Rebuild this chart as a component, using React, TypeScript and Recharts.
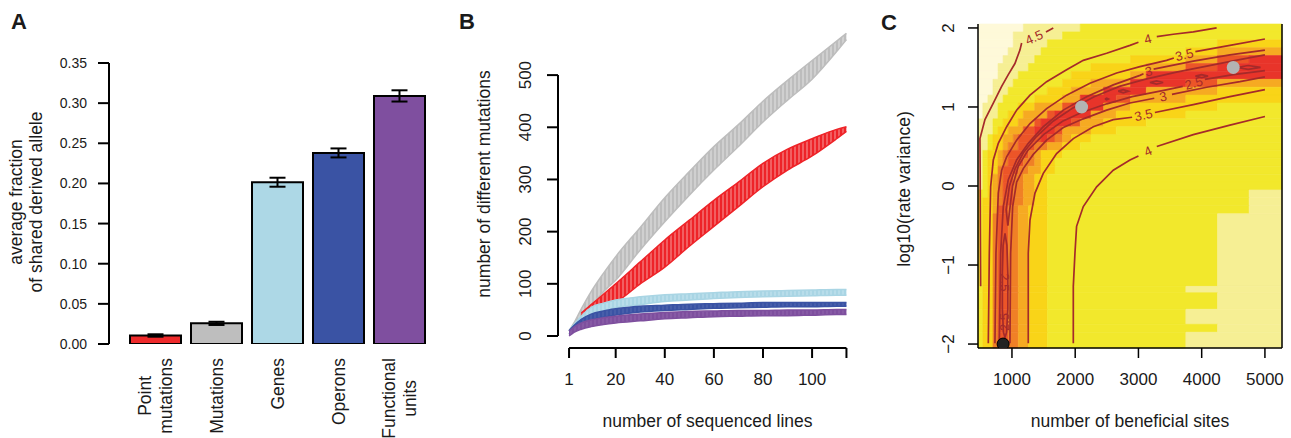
import React from 'react';
import {
  ComposedChart, Bar, ErrorBar, Cell, XAxis, YAxis, Area, Line, Scatter,
  ReferenceArea, ReferenceLine,
} from 'recharts';

const FONT = '"Liberation Sans", Arial, Helvetica, sans-serif';
const INK = '#1a1a1a';

// ---------- panel A ----------
const A_CATEGORIES = ['Point\nmutations', 'Mutations', 'Genes', 'Operons', 'Functional\nunits'];
const A_VALUES = [0.0106, 0.0257, 0.2015, 0.238, 0.309];
const A_ERRORS = [0.0015, 0.002, 0.0056, 0.0056, 0.007];
const A_COLORS = ['#EE2A2B', '#BEBEBE', '#ADD8E6', '#3A53A4', '#7F4F9F'];
const A_TICKS = [0, 0.05, 0.1, 0.15, 0.2, 0.25, 0.3, 0.35];

// ---------- panel B ----------
const B_LINES = [1, 3, 6, 10, 15, 20, 30, 40, 50, 60, 70, 80, 90, 100, 110, 114];
const B_GREY = [[3, 10], [12, 25], [30, 52], [55, 85], [85, 120], [107, 152], [165, 208], [219, 265], [270, 315], [318, 363], [363, 405], [410, 450], [452, 490], [492, 528], [545, 565], [568, 580]];
const B_RED = [null, null, [36, 44], [45, 60], [57, 80], [65, 100], [100, 142], [132, 184], [172, 222], [210, 260], [248, 295], [286, 331], [318, 358], [345, 378], [378, 396], [392, 401]];
const B_LIGHTBLUE = [[4, 10], [12, 22], [25, 38], [38, 55], [48, 63], [54, 69], [60, 75], [66, 79], [69, 81], [72, 83], [74, 85], [75, 86], [76, 87], [77, 88], [78, 89], [78, 89]];
const B_BLUE = [[3, 10], [10, 20], [20, 32], [30, 42], [36, 48], [40, 52], [46, 57], [49, 59], [51, 61], [53, 62], [54, 63], [55, 64], [56, 64], [56, 64], [57, 64], [57, 64]];
const B_PURPLE = [[0, 9], [7, 17], [13, 25], [18, 31], [22, 35], [25, 38], [29, 42], [33, 45], [35, 47], [37, 48], [38, 49], [39, 49], [39, 50], [40, 50], [41, 51], [41, 51]];
const B_XTICKS = [1, 20, 40, 60, 80, 100, 114];
const B_YTICKS = [0, 100, 200, 300, 400, 500];

// ---------- panel C ----------
const C_COL_EDGES = [463, 540, 620, 700, 780, 860, 940, 1020, 1100, 1180, 1260, 1360, 1460, 1560, 1680, 1800, 1940, 2080, 2250, 2450, 2650, 2875, 3125, 3750, 4250, 4750, 5270];
const C_ROW_EDGES = [2.05, 1.95, 1.85, 1.75, 1.65, 1.55, 1.45, 1.35, 1.25, 1.15, 1.05, 0.95, 0.85, 0.75, 0.65, 0.55, 0.45, 0.35, 0.25, 0.15, 0.05, -0.05, -0.15, -0.25, -0.35, -1.27, -1.35, -1.56, -1.75, -1.85, -2.05];
// colour level of each heat-map cell, one string per row (top to bottom)
const C_LEVELS = [
  '00000000011111111222222222',
  '00000001111111122222222222',
  '00000001111112222222222233',
  '00000011111122222222222344',
  '00000111111222222222233467',
  '00001111112222222233334677',
  '00001111222222223333347777',
  '00011112222222233344477644',
  '00011122222223334447774433',
  '00111222222333344777644333',
  '01112222333444467774433322',
  '01112233344446777744333222',
  '11122333444677776443332222',
  '11123344466777644433222222',
  '11233445666676543322222222',
  '11233455666554433222222222',
  '12334566665433322222222222',
  '12334566655433222222222222',
  '12335666554433222222222222',
  '12345665544332222222222222',
  '12345665544332222222222222',
  '22345665544332222222222221',
  '23345665544332222222222221',
  '23346655443332222222222221',
  '23356655443332222222222211',
  '23356655443332222222222111',
  '23356655443332222222222211',
  '23356655443332222222222111',
  '23356655443332222222222211',
  '23356655443332222222222111',
];
const C_PALETTE = ['#FEF9D9', '#F6EF94', '#F2E82C', '#F9D418', '#F6AA22', '#F08026', '#EC5528', '#E8342A'];
const C_XTICKS = [1000, 2000, 3000, 4000, 5000];
const C_YTICKS = [-2, -1, 0, 1, 2];

const C_45_A = [[505, -1.27], [500, -0.5], [497, 0.2], [494, 0.6], [573, 0.84], [705, 1.05], [837, 1.26], [942, 1.41], [1047, 1.55], [1126, 1.72], [1153, 1.81]];
const C_45_B = [[1538, 1.95], [1653, 2.0]];
const C_4U_A = [[626, -1.99], [642, -0.85], [663, -0.01], [705, 0.33], [784, 0.54], [916, 0.75], [1074, 0.96], [1285, 1.15], [1548, 1.32], [1864, 1.47], [2128, 1.59], [2497, 1.68], [2866, 1.78], [3000, 1.82]];
const C_4U_B = [[3290, 1.89], [3551, 1.92], [3867, 1.95], [4236, 2.0]];
const C_35U_A = [[731, -1.99], [747, -0.85], [784, -0.09], [837, 0.2], [916, 0.37], [1074, 0.58], [1285, 0.79], [1548, 0.98], [1864, 1.15], [2233, 1.3], [2655, 1.43], [3024, 1.51], [3445, 1.59], [3560, 1.62]];
const C_35U_B = [[3900, 1.7], [4447, 1.78], [5000, 1.86]];
const C_3U_A = [[800, -1.99], [821, -0.85], [863, -0.26], [942, 0.08], [1074, 0.33], [1258, 0.54], [1495, 0.75], [1812, 0.96], [2180, 1.13], [2602, 1.28], [3024, 1.4], [3080, 1.42]];
const C_3U_B = [[3240, 1.48], [3867, 1.58], [4447, 1.66], [5000, 1.72]];
const C_25U = [[935, -0.5], [908, -0.3], [960, 0.0], [1050, 0.22], [1180, 0.42], [1380, 0.62], [1650, 0.82], [1950, 0.98], [2300, 1.13], [2700, 1.26], [3100, 1.35], [3600, 1.44], [4100, 1.52], [4600, 1.6], [5000, 1.66]];
const C_25L_A = [[935, -0.5], [965, -0.3], [1010, 0.0], [1100, 0.25], [1250, 0.45], [1500, 0.65], [1800, 0.82], [2100, 0.93], [2500, 1.04], [2900, 1.13], [3400, 1.21], [3700, 1.26]];
const C_25L_B = [[4050, 1.35], [4500, 1.41], [5000, 1.46]];
const C_3L_A = [[968, -1.99], [979, -0.85], [1011, -0.26], [1074, 0.05], [1179, 0.22], [1337, 0.4], [1548, 0.58], [1812, 0.74], [2128, 0.85], [2497, 0.96], [2866, 1.05], [3250, 1.11]];
const C_3L_B = [[3530, 1.16], [4078, 1.25], [4605, 1.32], [5000, 1.38]];
const C_35L_A = [[1258, -1.99], [1258, -0.85], [1285, -0.43], [1364, -0.09], [1495, 0.16], [1706, 0.41], [1970, 0.6], [2286, 0.75], [2602, 0.84], [2900, 0.87]];
const C_35L_B = [[3260, 0.93], [3867, 1.03], [4447, 1.13], [5000, 1.22]];
const C_4L_A = [[1970, -1.99], [1970, -1.27], [1996, -0.85], [2022, -0.51], [2128, -0.26], [2339, -0.01], [2602, 0.2], [2866, 0.33], [3000, 0.38]];
const C_4L_B = [[3290, 0.5], [3867, 0.65], [4447, 0.77], [5000, 0.88]];
const C_LOOP_V = [[890, -0.6], [920, -0.75], [935, -1.1], [935, -1.55], [915, -1.85], [890, -1.92], [865, -1.85], [848, -1.55], [848, -1.1], [860, -0.75], [890, -0.6]];
const C_LOOP_1 = [[2680, 1.2], [2760, 1.22], [2840, 1.2], [2760, 1.18], [2680, 1.2]];
const C_LOOP_2 = [[3180, 1.31], [3287, 1.33], [3390, 1.31], [3287, 1.29], [3180, 1.31]];
const C_LOOP_3 = [[3900, 1.39], [3999, 1.41], [4100, 1.39], [3999, 1.37], [3900, 1.39]];
const C_LOOP_4 = [[4560, 1.5], [4736, 1.525], [4930, 1.5], [4736, 1.475], [4560, 1.5]];
const C_LOOP_5 = [[2470, 1.1], [2497, 1.11], [2525, 1.1], [2497, 1.09], [2470, 1.1]];

const C_LABELS = [
  { x: 1350, y: 1.88, t: '4.5', a: -24 },
  { x: 3150, y: 1.86, t: '4', a: -15 },
  { x: 3725, y: 1.66, t: '3.5', a: -14 },
  { x: 3160, y: 1.45, t: '3', a: -12 },
  { x: 3875, y: 1.3, t: '2.5', a: -16 },
  { x: 3390, y: 1.13, t: '3', a: -12 },
  { x: 3080, y: 0.9, t: '3.5', a: -12 },
  { x: 3150, y: 0.44, t: '4', a: -24 },
  { x: 885, y: -1.22, t: '2.5', a: 90 },
  { x: 885, y: -1.72, t: '2.5', a: -90 },
];
const C_GREY_POINTS = [[2101, 1.0], [4499, 1.5]];
const C_BLACK_POINTS = [[860, -2.0]];

const CONTOUR = '#A52A2A';
const C_SEGMENTS = [C_45_A, C_45_B, C_4U_A, C_4U_B, C_35U_A, C_35U_B, C_3U_A, C_3U_B, C_25U, C_25L_A, C_25L_B,
  C_3L_A, C_3L_B, C_35L_A, C_35L_B, C_4L_A, C_4L_B, C_LOOP_V, C_LOOP_1, C_LOOP_2, C_LOOP_3, C_LOOP_4, C_LOOP_5];

// ---------- helpers ----------
let measureCtx: CanvasRenderingContext2D | null = null;
function textWidth(s: string, font: string) {
  if (!measureCtx) measureCtx = document.createElement('canvas').getContext('2d');
  if (!measureCtx) return s.length * 9;
  measureCtx.font = font;
  return measureCtx.measureText(s).width;
}

const CategoryTick = (props: any) => {
  const { x, payload } = props;
  const lines = String(payload.value).split('\n');
  const longest = Math.max(...lines.map((l) => textWidth(l, `17.5px ${FONT}`)));
  const cy = 358 + longest / 2;
  return (
    <g>
      {lines.map((l, i) => (
        <text key={i} transform={`translate(${x + (i - (lines.length - 1) / 2) * 21}, ${cy}) rotate(-90)`}
          textAnchor="middle" dominantBaseline="central" fontSize={17.5} fontFamily={FONT} fill={INK}>{l}</text>
      ))}
    </g>
  );
};

const RotatedTick = (props: any) => {
  const { x, y, payload, shift } = props;
  const v = Number(payload.value);
  const label = v < 0 ? `\u2212${Math.abs(v)}` : String(v);
  return (
    <text transform={`translate(${x - shift}, ${y}) rotate(-90)`} textAnchor="middle" dominantBaseline="central"
      fontSize={17} fontFamily={FONT} fill={INK}>{label}</text>
  );
};

const ContourLabel = (p: any) => (
  <text x={p.cx} y={p.cy} transform={`rotate(${p.payload.a}, ${p.cx}, ${p.cy})`} textAnchor="middle"
    dominantBaseline="central" fontSize={13} fontFamily={FONT} fill={CONTOUR}>{p.payload.t}</text>
);

const aData = A_CATEGORIES.map((name, i) => ({ name, value: A_VALUES[i], err: A_ERRORS[i] }));
const bData = B_LINES.map((x, i) => ({
  x, grey: B_GREY[i], red: B_RED[i], lightblue: B_LIGHTBLUE[i], blue: B_BLUE[i], purple: B_PURPLE[i],
}));
const B_SERIES = [
  { key: 'grey', color: '#BDBDBD', stripe: '#E4E4E4' },
  { key: 'red', color: '#EE2328', stripe: '#F79A9A' },
  { key: 'lightblue', color: '#A9D5E4', stripe: '#C8E6F0' },
  { key: 'blue', color: '#3A53A4', stripe: '#5468B0' },
  { key: 'purple', color: '#7E4F9E', stripe: '#8F65AC' },
];

const heatCells: { x1: number; x2: number; y1: number; y2: number; fill: string }[] = [];
C_LEVELS.forEach((row, r) => {
  let start = 0;
  for (let c = 1; c <= row.length; c++) {
    if (c === row.length || row[c] !== row[start]) {
      heatCells.push({ x1: C_COL_EDGES[start], x2: C_COL_EDGES[c], y1: C_ROW_EDGES[r + 1], y2: C_ROW_EDGES[r], fill: C_PALETTE[Number(row[start])] });
      start = c;
    }
  }
});

const toXY = (pts: number[][]) => pts.map(([x, y]) => ({ x, y }));
const axisStroke = { stroke: '#000', strokeWidth: 2 };

export default function App() {
  return (
    <div style={{ position: 'fixed', left: 0, top: 0, width: 1291, height: 438, background: '#fff' }}>
      {/* A */}
      <div style={{ position: 'absolute', left: 0, top: 0 }}>
        <ComposedChart width={440} height={438} data={aData} margin={{ top: 63, right: 10, bottom: 0, left: 0 }}>
          <XAxis dataKey="name" type="category" height={94} padding={{ left: 16, right: 0 }} axisLine={false}
            tickLine={false} interval={0} tick={<CategoryTick />} />
          <YAxis type="number" domain={[0, 0.35]} ticks={A_TICKS} allowDataOverflow width={109} interval={0}
            tickSize={11} tickMargin={11} axisLine={axisStroke} tickLine={axisStroke}
            tickFormatter={(v: number) => v.toFixed(2)} tick={{ fontSize: 14, fontFamily: FONT, fill: INK }} />
          <Bar dataKey="value" barSize={51} stroke="#000" strokeWidth={2} isAnimationActive={false}>
            {aData.map((d, i) => <Cell key={d.name} fill={A_COLORS[i]} />)}
            <ErrorBar dataKey="err" width={8} stroke="#000" strokeWidth={2} direction="y" />
          </Bar>
        </ComposedChart>
      </div>

      {/* B */}
      <div style={{ position: 'absolute', left: 440, top: 0 }}>
        <ComposedChart width={420} height={438} data={bData} margin={{ top: 22.4, right: 2.5, bottom: 0, left: 0 }}>
          <defs>
            {B_SERIES.map((s) => (
              <pattern key={s.key} id={`hatch-${s.key}`} width={4} height={6} patternUnits="userSpaceOnUse">
                <rect width={4} height={6} fill={s.color} />
                <rect x={2.5} width={1} height={6} fill={s.stripe} />
              </pattern>
            ))}
          </defs>
          <XAxis dataKey="x" type="number" domain={[-3.5, 118.5]} ticks={B_XTICKS} allowDataOverflow height={90}
            interval={0} axisLine={false} tickSize={10} tickMargin={15} tickLine={axisStroke}
            tickFormatter={(v: number) => (v === 114 ? '' : String(v))}
            tick={{ fontSize: 17, fontFamily: FONT, fill: INK }} />
          <YAxis type="number" domain={[-23, 601]} ticks={B_YTICKS} allowDataOverflow width={118} interval={0}
            axisLine={false} tickSize={11} tickMargin={0} tickLine={axisStroke}
            tick={(p: any) => <RotatedTick {...p} shift={22} />} />
          <ReferenceLine segment={[{ x: -3.5, y: 0 }, { x: -3.5, y: 500 }]} stroke="#000" strokeWidth={2} />
          <ReferenceLine segment={[{ x: 1, y: -23 }, { x: 114, y: -23 }]} stroke="#000" strokeWidth={2} />
          {B_SERIES.map((s) => (
            <Area key={s.key} dataKey={s.key} type="monotone" stroke={s.color} strokeWidth={1.5}
              fill={`url(#hatch-${s.key})`} fillOpacity={1} dot={false} activeDot={false}
              isAnimationActive={false} />
          ))}
        </ComposedChart>
      </div>

      {/* C */}
      <div style={{ position: 'absolute', left: 860, top: 0 }}>
        <ComposedChart width={431} height={438} margin={{ top: 24, right: 9, bottom: 0, left: 0 }}>
          <XAxis dataKey="x" type="number" domain={[463, 5270]} ticks={C_XTICKS} allowDataOverflow height={90}
            interval={0} tickSize={10} tickMargin={15} axisLine={{ stroke: '#000', strokeWidth: 1.5 }}
            tickLine={{ stroke: '#000', strokeWidth: 1.5 }} tick={{ fontSize: 17, fontFamily: FONT, fill: INK }} />
          <YAxis dataKey="y" type="number" domain={[-2.05, 2.05]} ticks={C_YTICKS} allowDataOverflow width={118}
            interval={0} tickSize={10} tickMargin={0} axisLine={{ stroke: '#000', strokeWidth: 1.5 }}
            tickLine={{ stroke: '#000', strokeWidth: 1.5 }} tick={(p: any) => <RotatedTick {...p} shift={20} />} />
          {heatCells.map((h, i) => (
            <ReferenceArea key={`h${i}`} x1={h.x1} x2={h.x2} y1={h.y1} y2={h.y2} fill={h.fill} fillOpacity={1}
              stroke={h.fill} strokeWidth={0.6} ifOverflow="visible" />
          ))}
          <ReferenceLine x={5270} stroke="#000" strokeWidth={1.5} />
          {C_SEGMENTS.map((seg, i) => (
            <Line key={`c${i}`} data={toXY(seg)} dataKey="y" type="linear" stroke={CONTOUR} strokeWidth={1.7}
              dot={false} activeDot={false} isAnimationActive={false} />
          ))}
          <Scatter data={C_LABELS} shape={<ContourLabel />} isAnimationActive={false} />
          <Scatter data={toXY(C_GREY_POINTS)} fill="#B3B3B3" isAnimationActive={false}
            shape={(p: any) => <circle cx={p.cx} cy={p.cy} r={6.5} fill="#B3B3B3" />} />
          <Scatter data={toXY(C_BLACK_POINTS)} fill="#1a1a1a" isAnimationActive={false}
            shape={(p: any) => <circle cx={p.cx} cy={p.cy} r={6} fill="#222" stroke="#000" strokeWidth={1} />} />
        </ComposedChart>
      </div>

      {/* panel letters and axis titles */}
      <svg width={1291} height={438} style={{ position: 'absolute', left: 0, top: 0, pointerEvents: 'none' }}
        fontFamily={FONT} fill={INK}>
        <text x={11} y={29} fontSize={22} fontWeight="bold">A</text>
        <text x={459} y={29} fontSize={22} fontWeight="bold">B</text>
        <text x={881} y={30} fontSize={22} fontWeight="bold">C</text>
        <text transform="translate(22, 202) rotate(-90)" textAnchor="middle" fontSize={17.5}>average fraction</text>
        <text transform="translate(41.5, 202) rotate(-90)" textAnchor="middle" fontSize={17.5}>of shared derived allele</text>
        <text transform="translate(490, 184) rotate(-90)" textAnchor="middle" fontSize={17.5}>number of different mutations</text>
        <text x={707.5} y={427} textAnchor="middle" fontSize={17.5}>number of sequenced lines</text>
        <text transform="translate(910, 189) rotate(-90)" textAnchor="middle" fontSize={17.5}>log10(rate variance)</text>
        <text x={1130} y={427} textAnchor="middle" fontSize={17.5}>number of beneficial sites</text>
      </svg>
    </div>
  );
}
